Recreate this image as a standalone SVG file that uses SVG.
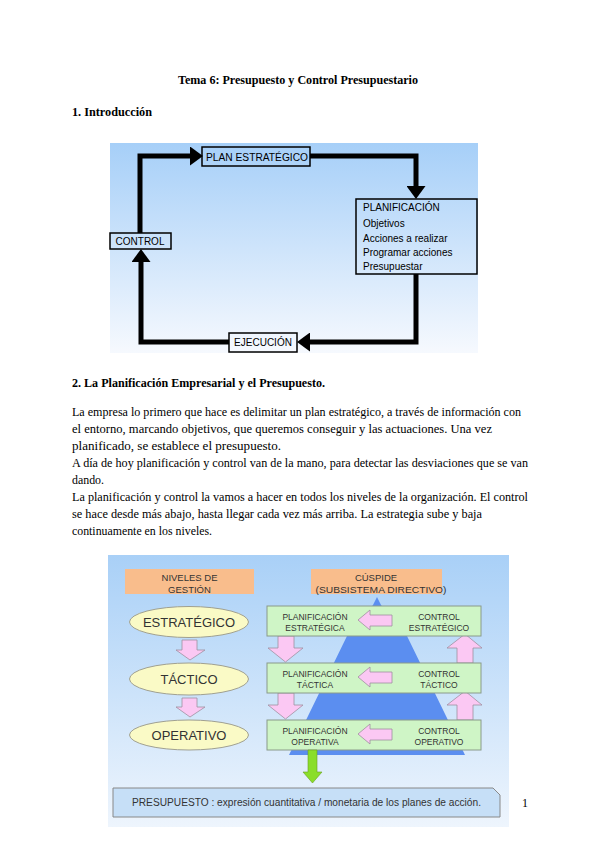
<svg xmlns="http://www.w3.org/2000/svg" width="600" height="848" viewBox="0 0 600 848">
<defs>
<linearGradient id="bg1" x1="0" y1="0" x2="0" y2="1"><stop offset="0" stop-color="#a6cff8"/><stop offset="1" stop-color="#f6f9fe"/></linearGradient>
<linearGradient id="bg2" x1="0" y1="0" x2="0" y2="1"><stop offset="0" stop-color="#a9d0f7"/><stop offset="1" stop-color="#eef5fd"/></linearGradient>
<marker id="ahH" markerUnits="userSpaceOnUse" markerWidth="13" markerHeight="19" refX="0" refY="9.5" orient="auto"><path d="M0,0 L13,9.5 L0,19 Z" fill="#000"/></marker>
<style>
.doc{font-family:"Liberation Serif","Times New Roman",serif;fill:#000}
.b{font-weight:bold}
.p{font-size:12px}
.s1{font-family:"Liberation Sans",Arial,sans-serif;font-size:10px;fill:#000}
.s2{font-family:"Liberation Sans",Arial,sans-serif;fill:#333}
.g8{font-size:8.5px}
.box1{fill:none;stroke:#000;stroke-width:1.5}
.loop{fill:none;stroke:#000;stroke-width:5;marker-end:url(#ahH)}
.grn{fill:#cff5c6;stroke:#8a9a8a;stroke-width:1}
.org{fill:#f9bd8c}
.ell{fill:#fafac6;stroke:#a0a090;stroke-width:1}
.pink{fill:#fbc8f3;stroke:#a090a0;stroke-width:0.8}
</style>
</defs>
<rect width="600" height="848" fill="#fff"/>

<g id="texts">
<text class="doc b" x="298" y="84" font-size="12" text-anchor="middle" textLength="240" lengthAdjust="spacingAndGlyphs">Tema 6: Presupuesto y Control Presupuestario</text>
<text class="doc b" x="72" y="116" font-size="12" textLength="80" lengthAdjust="spacingAndGlyphs">1. Introducción</text>
<text class="doc b" x="72" y="387" font-size="12" textLength="253" lengthAdjust="spacingAndGlyphs">2. La Planificación Empresarial y el Presupuesto.</text>
<text class="doc p" x="72" y="416" textLength="449" lengthAdjust="spacingAndGlyphs">La empresa lo primero que hace es delimitar un plan estratégico, a través de información con</text>
<text class="doc p" x="72" y="433" textLength="420" lengthAdjust="spacingAndGlyphs">el entorno, marcando objetivos, que queremos conseguir y las actuaciones. Una vez</text>
<text class="doc p" x="72" y="450" textLength="209" lengthAdjust="spacingAndGlyphs">planificado, se establece el presupuesto.</text>
<text class="doc p" x="72" y="467" textLength="456" lengthAdjust="spacingAndGlyphs">A día de hoy planificación y control van de la mano, para detectar las desviaciones que se van</text>
<text class="doc p" x="72" y="484" textLength="32" lengthAdjust="spacingAndGlyphs">dando.</text>
<text class="doc p" x="72" y="501" textLength="456" lengthAdjust="spacingAndGlyphs">La planificación y control la vamos a hacer en todos los niveles de la organización. El control</text>
<text class="doc p" x="72" y="518" textLength="410" lengthAdjust="spacingAndGlyphs">se hace desde más abajo, hasta llegar cada vez más arriba. La estrategia sube y baja</text>
<text class="doc p" x="72" y="535" textLength="140" lengthAdjust="spacingAndGlyphs">continuamente en los niveles.</text>
<text class="doc p" x="522" y="807">1</text>
</g>

<!-- Diagram 1 -->
<rect x="110" y="143" width="368" height="210" fill="url(#bg1)"/>
<g id="connectors1">
<path class="loop" d="M140,233 V156 H190"/>
<path class="loop" d="M310,156 H416 V186"/>
<path class="loop" d="M416,274 V342 H310"/>
<path class="loop" d="M229,342 H141 V262"/>
</g>
<g id="plan-estrategico">
<rect class="box1" x="202" y="147" width="108" height="19"/>
<text class="s1" x="206" y="160.5" textLength="102" lengthAdjust="spacingAndGlyphs">PLAN ESTRATÉGICO</text>
</g>
<g id="planificacion">
<rect class="box1" x="356" y="199" width="121" height="75"/>
<text class="s1" x="363" y="211">PLANIFICACIÓN</text>
<text class="s1" x="363" y="227">Objetivos</text>
<text class="s1" x="363" y="242">Acciones a realizar</text>
<text class="s1" x="363" y="256">Programar acciones</text>
<text class="s1" x="363" y="270">Presupuestar</text>
</g>
<g id="ejecucion">
<rect class="box1" x="229" y="333" width="68" height="19"/>
<text class="s1" x="263" y="346" text-anchor="middle">EJECUCIÓN</text>
</g>
<g id="control">
<rect class="box1" x="110" y="233" width="61" height="16"/>
<text class="s1" x="140" y="245" text-anchor="middle">CONTROL</text>
</g>

<!-- Diagram 2 -->
<rect x="108" y="555" width="401" height="272" fill="url(#bg2)"/>
<polygon id="piramide" points="377,597 381,605 407,636 465,755 289,755 347,636 373,605" fill="#5b8ef0"/>
<g id="niveles-de-gestion">
<rect class="org" x="125" y="569" width="129" height="25"/>
<text class="s2" x="189.5" y="581" font-size="9.5" text-anchor="middle">NIVELES DE</text>
<text class="s2" x="189.5" y="593" font-size="9.5" text-anchor="middle">GESTIÓN</text>
</g>
<g id="cuspide">
<rect class="org" x="311" y="569" width="131" height="25"/>
<text class="s2" x="376" y="581" font-size="9.5" text-anchor="middle">CÚSPIDE</text>
<text class="s2" x="381" y="593" font-size="9.5" text-anchor="middle" textLength="131" lengthAdjust="spacingAndGlyphs">(SUBSISTEMA DIRECTIVO)</text>
</g>
<g id="estrategico">
<ellipse class="ell" cx="189" cy="622" rx="59.5" ry="15.5"/>
<text class="s2" x="189" y="627" font-size="13" fill="#222" text-anchor="middle">ESTRATÉGICO</text>
</g>
<g id="tactico">
<ellipse class="ell" cx="189" cy="679" rx="59.5" ry="16"/>
<text class="s2" x="189" y="684" font-size="13" text-anchor="middle">TÁCTICO</text>
</g>
<g id="operativo">
<ellipse class="ell" cx="189" cy="735" rx="59.5" ry="15"/>
<text class="s2" x="189" y="740" font-size="13" text-anchor="middle">OPERATIVO</text>
</g>
<g id="connectors2">
<polygon class="pink" points="182,640 197,640 197,650 205,650 190,660 176,650 182,650"/>
<polygon class="pink" points="182,698 197,698 197,707 205,707 190,717 176,707 182,707"/>
<polygon class="pink" points="278,636 294,636 294,648 303,648 285.5,662 268,648 278,648"/>
<polygon class="pink" points="278,693 294,693 294,705 303,705 285.5,719 268,705 278,705"/>
<polygon class="pink" points="457,663 473,663 473,648 482,648 465,634 447,648 457,648"/>
<polygon class="pink" points="457,720 473,720 473,705 482,705 465,691 447,705 457,705"/>
</g>
<g id="nivel-estrategico">
<rect class="grn" x="267" y="606" width="214" height="30"/>
<text class="s2 g8" x="315" y="620" text-anchor="middle">PLANIFICACIÓN</text>
<text class="s2 g8" x="315" y="631" text-anchor="middle">ESTRATÉGICA</text>
<text class="s2 g8" x="439" y="620" text-anchor="middle">CONTROL</text>
<text class="s2 g8" x="439" y="631" text-anchor="middle">ESTRATÉGICO</text>
<polygon class="pink" points="358,620 370,610 370,615 392,615 392,626 370,626 370,630"/>
</g>
<g id="nivel-tactico">
<rect class="grn" x="267" y="663" width="214" height="30"/>
<text class="s2 g8" x="315" y="677" text-anchor="middle">PLANIFICACIÓN</text>
<text class="s2 g8" x="315" y="688" text-anchor="middle">TÁCTICA</text>
<text class="s2 g8" x="439" y="677" text-anchor="middle">CONTROL</text>
<text class="s2 g8" x="439" y="688" text-anchor="middle">TÁCTICO</text>
<polygon class="pink" points="358,677 370,667 370,672 392,672 392,683 370,683 370,687"/>
</g>
<g id="nivel-operativo">
<rect class="grn" x="267" y="720" width="214" height="30"/>
<text class="s2 g8" x="315" y="734" text-anchor="middle" fill="#2f4f80">PLANIFICACIÓN</text>
<text class="s2 g8" x="315" y="745" text-anchor="middle" fill="#2f4f80">OPERATIVA</text>
<text class="s2 g8" x="439" y="734" text-anchor="middle">CONTROL</text>
<text class="s2 g8" x="439" y="745" text-anchor="middle">OPERATIVO</text>
<polygon class="pink" points="358,734 370,724 370,729 392,729 392,740 370,740 370,744"/>
</g>
<polygon id="flecha-presupuesto" points="308,750 317,750 317,772 322,772 312.5,783 303,772 308,772" fill="#8ade2a" stroke="#6aa020" stroke-width="0.6"/>
<g id="presupuesto">
<path d="M113,788 H493 L500,795 V817 H113 Z" fill="#c6dff7" stroke="#888" stroke-width="1"/>
<text class="s2" x="132" y="806" font-size="10" textLength="349" lengthAdjust="spacingAndGlyphs">PRESUPUESTO : expresión cuantitativa / monetaria de los planes de acción.</text>
</g>
</svg>
